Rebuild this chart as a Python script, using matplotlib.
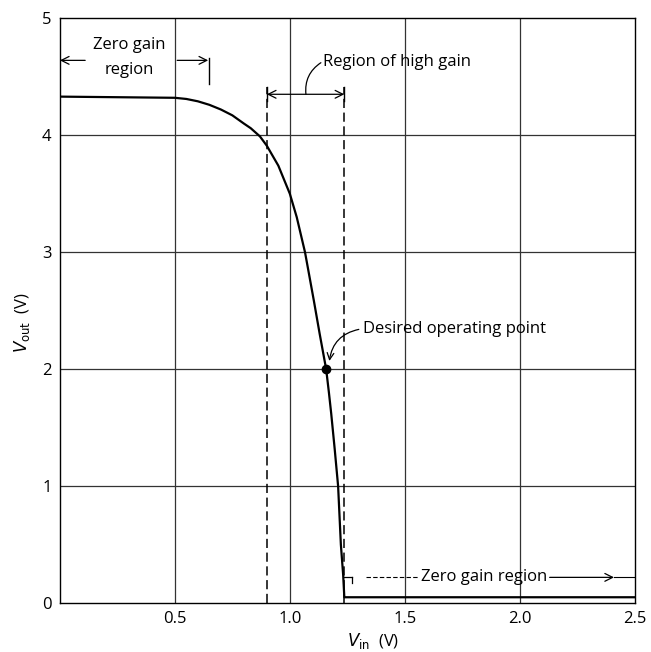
import matplotlib
matplotlib.use('Agg')
import matplotlib.pyplot as plt

plt.rcParams['font.family'] = ['Open Sans', 'DejaVu Sans']

# transfer curve
vin = [0.0, 0.5, 0.55, 0.6, 0.65, 0.7, 0.75, 0.8, 0.83, 0.87, 0.9, 0.95,
       1.0, 1.03, 1.066, 1.08, 1.105, 1.13, 1.158, 1.17, 1.18, 1.195,
       1.21, 1.222, 1.232, 1.237, 2.5]
vout = [4.33, 4.32, 4.31, 4.29, 4.26, 4.22, 4.17, 4.10, 4.06, 3.99, 3.91, 3.74,
        3.50, 3.30, 3.0, 2.85, 2.58, 2.30, 2.0, 1.80, 1.62, 1.32,
        1.0, 0.5, 0.24, 0.05, 0.05]

op_point = (1.158, 2.0)
high_gain = (0.9, 1.237)      # dashed limits
zero_gain_left_end = 0.65

xticks = [0.5, 1.0, 1.5, 2.0, 2.5]
xtick_labels = ['0.5', '1.0', '1.5', '2.0', '2.5']
yticks = [0, 1, 2, 3, 4, 5]

fig = plt.figure(figsize=(6.51, 6.52), dpi=100)
ax = fig.add_axes([0.092, 0.075, 0.883, 0.897])
ax.set_xlim(0, 2.5)
ax.set_ylim(0, 5)

# grid
for x in [0.5, 1.0, 1.5, 2.0]:
    ax.axvline(x, color='#333333', lw=0.9, zorder=1)
for y in [1, 2, 3, 4]:
    ax.axhline(y, color='#333333', lw=0.9, zorder=1)

ax.plot(vin, vout, color='black', lw=1.6, zorder=3, solid_joinstyle='round')
ax.plot(*op_point, 'o', color='black', ms=6, zorder=4)

# high gain region dashed lines
for x in high_gain:
    ax.plot([x, x], [0, 4.41], color='black', lw=1.1, ls=(0, (6, 3)), zorder=2)
    ax.plot([x, x], [4.29, 4.41], color='black', lw=1.0)
ax.annotate('', xy=(high_gain[0], 4.35), xytext=(high_gain[1], 4.35),
            arrowprops=dict(arrowstyle='<->', color='black', lw=0.9,
                            shrinkA=0, shrinkB=0, mutation_scale=14))
ax.annotate('', xy=(1.07, 4.35), xytext=(1.135, 4.62),
            arrowprops=dict(arrowstyle='-', color='black', lw=0.9,
                            connectionstyle='arc3,rad=0.3', shrinkA=0, shrinkB=0))
ax.text(1.145, 4.63, 'Region of high gain', fontsize=12, va='center', ha='left')

# zero gain region (top left)
ax.text(0.3, 4.77, 'Zero gain', fontsize=12, ha='center', va='center')
ax.text(0.3, 4.56, 'region', fontsize=12, ha='center', va='center')
ax.annotate('', xy=(0.0, 4.64), xytext=(0.11, 4.64),
            arrowprops=dict(arrowstyle='->', color='black', lw=0.9,
                            shrinkA=0, shrinkB=0, mutation_scale=14))
ax.annotate('', xy=(zero_gain_left_end - 0.005, 4.64), xytext=(0.51, 4.64),
            arrowprops=dict(arrowstyle='->', color='black', lw=0.9,
                            shrinkA=0, shrinkB=0, mutation_scale=14))
ax.plot([zero_gain_left_end, zero_gain_left_end], [4.44, 4.66], color='black', lw=1.0)

# zero gain region (bottom right)
ax.plot([1.237, 1.27], [0.22, 0.22], color='black', lw=0.9)
ax.plot([1.27, 1.27], [0.22, 0.17], color='black', lw=0.9)
ax.plot([1.33, 1.56], [0.22, 0.22], color='black', lw=0.8, ls=(0, (4, 2)))
ax.text(1.845, 0.22, 'Zero gain region', fontsize=12, ha='center', va='center')
ax.annotate('', xy=(2.41, 0.22), xytext=(2.13, 0.22),
            arrowprops=dict(arrowstyle='->', color='black', lw=0.9,
                            shrinkA=0, shrinkB=0, mutation_scale=14))
ax.plot([2.41, 2.5], [0.22, 0.22], color='black', lw=0.8)

# desired operating point
ax.text(1.32, 2.34, 'Desired operating point', fontsize=12, ha='left', va='center')
ax.annotate('', xy=(1.172, 2.07), xytext=(1.30, 2.34),
            arrowprops=dict(arrowstyle='->', color='black', lw=0.9,
                            connectionstyle='arc3,rad=0.35', shrinkA=0, shrinkB=0,
                            mutation_scale=12))

ax.set_xticks(xticks)
ax.set_xticklabels(xtick_labels)
ax.set_yticks(yticks)
ax.tick_params(length=0, labelsize=12, pad=6)
for s in ax.spines.values():
    s.set_linewidth(1.0)

ax.set_xlabel(r'$V_{\rm in}$  (V)', fontsize=12, labelpad=2)
ax.xaxis.set_label_coords(0.545, -0.048)
ax.set_ylabel(r'$V_{\rm out}$  (V)', fontsize=12, labelpad=4)
ax.yaxis.set_label_coords(-0.048, 0.48)

fig.savefig('out.png', dpi=100)
